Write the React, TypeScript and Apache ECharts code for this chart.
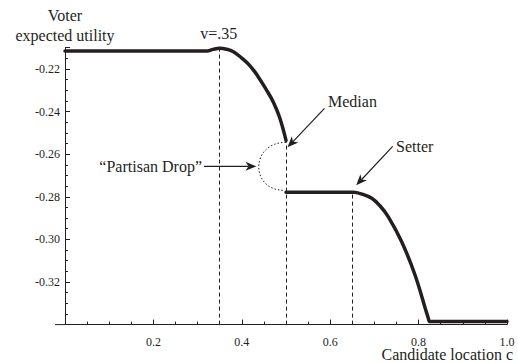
import React, { useEffect, useRef } from "react";
import * as echarts from "echarts";

// Upper branch (candidate location c, voter expected utility)
const upperC = [0, 0.322, 0.335, 0.35, 0.365, 0.381, 0.4, 0.4186, 0.437, 0.456, 0.472, 0.486, 0.5];
const upperV = [-0.2115, -0.2115, -0.2108, -0.2103, -0.2107, -0.2119, -0.2149, -0.2185, -0.2236, -0.2299, -0.2358, -0.243, -0.2535];
// Lower branch
const lowerC = [0.5, 0.652, 0.67, 0.694, 0.712, 0.7315, 0.7617, 0.7919, 0.822, 0.826, 1.0];
const lowerV = [-0.2779, -0.2779, -0.2786, -0.2807, -0.2841, -0.2894, -0.3011, -0.3167, -0.337, -0.3386, -0.3386];
// Dashed guides: location and top value
const guideC = [0.35, 0.5, 0.65];
const guideTop = [-0.2103, -0.2535, -0.2779];

const xTickLabels = ["0.2", "0.4", "0.6", "0.8", "1.0"];
const yTickLabels = ["-0.22", "-0.24", "-0.26", "-0.28", "-0.30", "-0.32"];

const INK = "#231f20";
const FONT = "Liberation Serif";
const Y_MIN = -0.34;
const Y_MAX = -0.21;

function arrow(x1: number, y1: number, x2: number, y2: number) {
  const dx = x2 - x1, dy = y2 - y1;
  const L = Math.hypot(dx, dy);
  const ux = dx / L, uy = dy / L;
  const px = -uy, py = ux;
  const len = 11, hw = 4.5, notch = 3;
  const bx = x2 - ux * len, by = y2 - uy * len;
  const nx = x2 - ux * (len - notch), ny = y2 - uy * (len - notch);
  return [
    { type: "line", silent: true, shape: { x1, y1, x2: nx, y2: ny }, style: { stroke: INK, lineWidth: 1.2 } },
    {
      type: "polygon",
      silent: true,
      shape: { points: [[x2, y2], [bx + px * hw, by + py * hw], [nx, ny], [bx - px * hw, by - py * hw]] },
      style: { fill: INK },
    },
  ];
}

function txt(text: string, x: number, y: number, align: string, size = 16, lh = size) {
  return {
    type: "text",
    silent: true,
    x,
    y,
    style: { text, fill: INK, fontFamily: FONT, fontSize: size, lineHeight: lh, align, verticalAlign: "middle" },
  };
}

export default function App() {
  const ref = useRef<HTMLDivElement>(null);
  useEffect(() => {
    if (!ref.current) return;
    const chart = echarts.init(ref.current, null, { renderer: "svg" });
    const lineStyle = { color: INK, width: 3.5, cap: "round" as const, join: "round" as const };
    chart.setOption({
      animation: false,
      textStyle: { fontFamily: FONT },
      grid: { left: 65, right: 11, top: 47.7, bottom: 37.4 },
      xAxis: {
        type: "value",
        min: 0,
        max: 1,
        interval: 0.2,
        splitLine: { show: false },
        axisLine: { lineStyle: { color: INK, width: 1 } },
        axisTick: { inside: true, length: 5, lineStyle: { color: INK } },
        minorTick: { show: true, splitNumber: 4, length: 3, lineStyle: { color: INK } },
        axisLabel: {
          margin: 12,
          color: INK,
          fontFamily: FONT,
          fontSize: 12,
          lineHeight: 10,
          formatter: (v: number) => {
            const s = v.toFixed(1);
            return xTickLabels.includes(s) ? s : "";
          },
        },
      },
      yAxis: {
        type: "value",
        min: Y_MIN,
        max: Y_MAX,
        interval: 0.02,
        splitLine: { show: false },
        axisLine: { show: true, lineStyle: { color: INK, width: 1 } },
        axisTick: { show: true, inside: true, length: 5, lineStyle: { color: INK } },
        minorTick: { show: true, splitNumber: 4, length: 3, lineStyle: { color: INK } },
        axisLabel: {
          margin: 5,
          color: INK,
          fontFamily: FONT,
          fontSize: 12,
          formatter: (v: number) => {
            const s = v.toFixed(2);
            return yTickLabels.includes(s) ? s : "";
          },
        },
      },
      series: [
        {
          type: "line",
          data: upperC.map((c, i) => [c, upperV[i]]),
          showSymbol: false,
          symbol: "none",
          smooth: 0.4,
          lineStyle,
          z: 5,
          markLine: {
            silent: true,
            symbol: "none",
            label: { show: false },
            lineStyle: { color: INK, width: 1, type: [4, 3] },
            data: guideC.map((c, i) => [{ coord: [c, Y_MIN] }, { coord: [c, guideTop[i]] }]),
          },
        },
        {
          type: "line",
          data: lowerC.map((c, i) => [c, lowerV[i]]),
          showSymbol: false,
          symbol: "none",
          smooth: 0.4,
          lineStyle,
          z: 5,
        },
      ],
    });

    const P = (c: number, v: number) => chart.convertToPixel({ gridIndex: 0 }, [c, v]) as number[];
    const origin = P(0, Y_MIN);
    const top = P(0.5, upperV[upperV.length - 1]);
    const bot = P(0.5, lowerV[0]);
    const midY = (top[1] + bot[1]) / 2;
    const rx = 27;
    const leftX = top[0] - rx;
    const setterPt = P(lowerC[1], lowerV[1]);

    const graphic: any[] = [
      { type: "line", silent: true, shape: { x1: origin[0] - 10, y1: origin[1], x2: origin[0], y2: origin[1] }, style: { stroke: INK, lineWidth: 1 } },
      {
        type: "bezierCurve",
        silent: true,
        shape: {
          x1: top[0], y1: top[1] + 2,
          cpx1: top[0] - (4 / 3) * rx, cpy1: top[1] + 2,
          cpx2: bot[0] - (4 / 3) * rx, cpy2: bot[1] - 2,
          x2: bot[0] - 2, y2: bot[1] - 2,
        },
        style: { stroke: INK, lineWidth: 1, lineDash: [1.5, 2], fill: null },
      },
      ...arrow(top[0] + 38.5, top[1] - 32, top[0] + 1.5, top[1] + 7),
      ...arrow(setterPt[0] + 39.5, setterPt[1] - 46, setterPt[0] + 3, setterPt[1] - 7),
      ...arrow(leftX - 55, midY, leftX - 2.5, midY),
      txt("Median", 328, 101.5, "left"),
      txt("Setter", 396, 146, "left"),
      txt("\u201CPartisan Drop\u201D", leftX - 57, midY, "right"),
      txt("v=.35", P(0.35, Y_MAX)[0] - 1, 33, "center"),
      txt("Voter", origin[0], 15, "center"),
      txt("expected utility", origin[0], 35, "center"),
      txt("Candidate location c", 513, 354.5, "right", 16, 12),
    ];
    chart.setOption({ graphic });
    return () => chart.dispose();
  }, []);
  return <div ref={ref} style={{ position: "absolute", left: 0, top: 0, width: 518, height: 362 }} />;
}
